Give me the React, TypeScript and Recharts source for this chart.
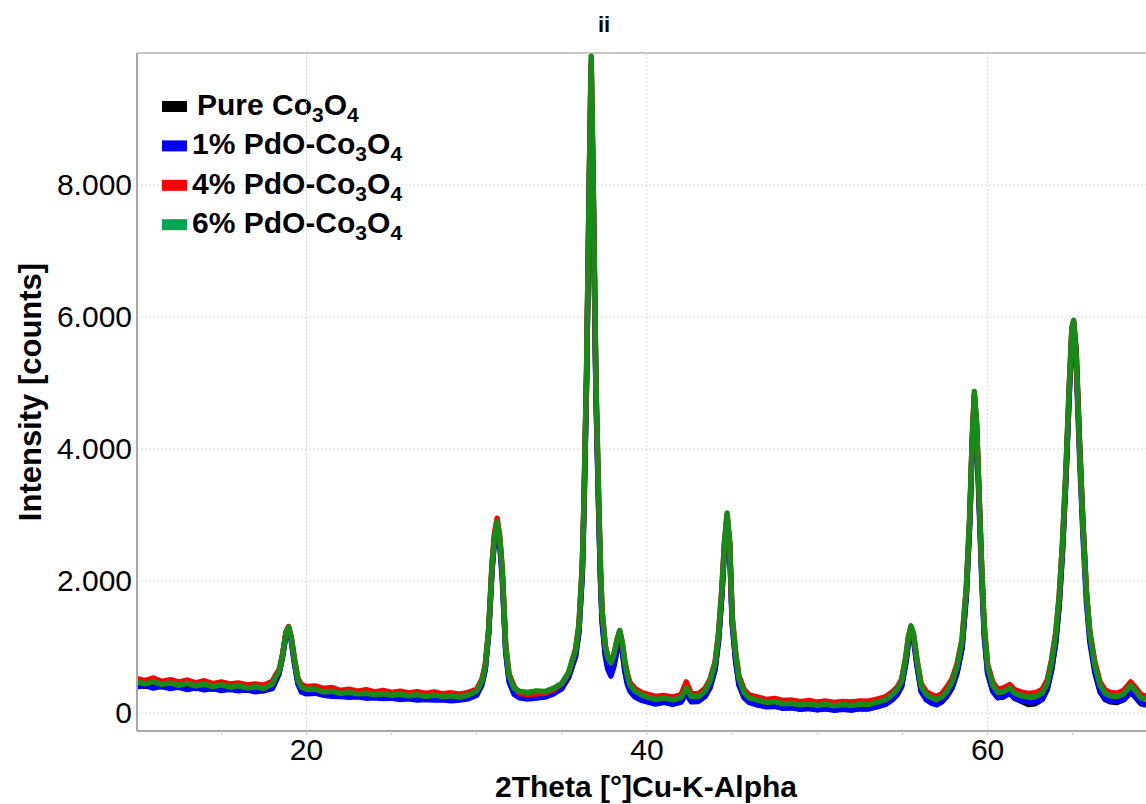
import React from "react";
import { LineChart, Line, XAxis, YAxis, CartesianGrid, ReferenceLine } from "recharts";

const twoTheta = [
  10.05, 10.5, 11, 11.5, 12, 12.5, 13, 13.5, 14, 14.5, 15, 15.5, 16, 16.5, 17, 17.5,
  18.0, 18.2, 18.4, 18.6, 18.8, 18.95, 19.1, 19.3, 19.5, 19.7, 20.0,
  20.5, 21, 21.5, 22, 22.5, 23, 23.5, 24, 24.5, 25, 25.5, 26, 26.5, 27, 27.5, 28, 28.5, 29, 29.5,
  30.0, 30.3, 30.5, 30.7, 30.9, 31.05, 31.2, 31.35, 31.5, 31.7, 31.9, 32.2,
  32.5, 33, 33.5, 34, 34.5, 35, 35.4,
  35.8, 36.0, 36.2, 36.3, 36.45, 36.6, 36.72, 36.84, 37.0, 37.16, 37.26, 37.36, 37.55, 37.7, 37.88, 38.05, 38.25, 38.4, 38.55, 38.7, 38.85, 39.0, 39.3, 39.7,
  40.0, 40.5, 41, 41.5, 42, 42.3, 42.6, 43, 43.4,
  43.7, 44.0, 44.2, 44.4, 44.55, 44.7, 44.85, 45.0, 45.2, 45.4, 45.7, 46.0,
  46.5, 47, 47.5, 48, 48.5, 49, 49.5, 50, 50.5, 51, 51.5, 52, 52.5, 53, 53.5, 54.0,
  54.4, 54.7, 54.95, 55.2, 55.35, 55.5, 55.65, 55.85, 56.1, 56.4, 56.7, 57.0, 57.3,
  57.6, 57.9, 58.2, 58.5, 58.75, 58.95, 59.1, 59.22, 59.35, 59.5, 59.65, 59.8, 60.0, 60.3, 60.6, 60.9, 61.3, 61.6,
  62.0, 62.4, 62.8, 63.2, 63.5, 63.75, 64.0, 64.2, 64.4, 64.6, 64.8, 64.95, 65.05, 65.2, 65.4, 65.6, 65.8, 66.0, 66.3, 66.6, 66.9, 67.2, 67.6, 68.0, 68.4, 68.7, 69.0, 69.3,
];

const pureCo3O4 = [
  430, 405, 425, 398, 410, 385, 402, 372, 392, 362, 380, 355, 368, 345, 356, 338,
  400, 510, 620, 870, 1210, 1290, 1140, 770, 470, 350, 320,
  330, 290, 298, 268, 280, 262, 270, 250, 262, 242, 255, 238, 248, 228, 242, 225, 235, 218, 245,
  300, 450, 680, 1220, 2200, 2680, 2870, 2620, 2100, 960, 510, 320,
  260, 240, 255, 265, 315, 400, 570,
  870, 1240, 2150, 3150, 5050, 7850, 9800, 7900, 4900, 3100, 2100, 1420, 890, 690, 600, 730, 990, 1160, 960, 650, 460, 360, 270, 210,
  180, 150, 170, 140, 175, 310, 185, 185, 260,
  400, 680, 1120, 1830, 2530, 2960, 2550, 1390, 810, 440, 245, 170,
  130, 100, 110, 80, 85, 62, 75, 52, 68, 48, 62, 50, 70, 68, 100, 140,
  210, 290, 410, 780, 1090, 1270, 1150, 740, 335, 210, 160, 130, 175,
  260, 380, 610, 1000, 1800, 2900, 4120, 4800, 4350, 3250, 2150, 1220, 620, 340, 235, 245, 305, 225,
  175, 130, 140, 205, 360, 650, 1080, 1640, 2480, 3580, 4900, 5780, 5920, 5500, 4100, 2880, 1830, 1180, 650, 330, 205, 170, 160, 200, 315, 235, 140, 120,
];

const pdo1 = [
  395, 420, 378, 405, 370, 392, 355, 380, 350, 372, 340, 360, 335, 350, 322, 340,
  370, 480, 600, 850, 1180, 1260, 1100, 740, 440, 320, 290,
  300, 270, 255, 250, 238, 245, 225, 232, 218, 225, 205, 215, 198, 205, 195, 200, 185, 195, 215,
  270, 420, 650, 1190, 2160, 2620, 2800, 2540, 2020, 920, 470, 280,
  230, 210, 225, 240, 290, 370, 540,
  850, 1220, 2100, 3100, 5000, 7700, 9500, 7800, 4800, 3050, 2050, 1380, 860, 660, 560, 700, 960, 1120, 920, 620, 430, 330, 240, 190,
  170, 135, 160, 130, 165, 300, 170, 175, 250,
  380, 660, 1090, 1790, 2490, 2890, 2490, 1340, 790, 420, 230, 160,
  120, 95, 100, 70, 78, 55, 68, 48, 62, 42, 58, 45, 65, 62, 95, 130,
  200, 280, 400, 760, 1060, 1230, 1110, 710, 320, 200, 150, 125, 165,
  250, 370, 600, 980, 1780, 2860, 4050, 4700, 4250, 3150, 2060, 1160, 600, 330, 230, 240, 300, 220,
  185, 165, 170, 210, 360, 640, 1070, 1620, 2460, 3560, 4860, 5700, 5800, 5280, 3880, 2680, 1680, 1080, 600, 320, 215, 185, 175, 205, 320, 240, 150, 130,
];

const pdo4 = [
  520, 490, 530, 478, 505, 470, 498, 455, 488, 445, 470, 440, 455, 425, 440, 420,
  480, 580, 660, 890, 1230, 1310, 1160, 820, 530, 430, 400,
  410, 372, 385, 340, 362, 330, 352, 318, 340, 310, 330, 305, 322, 295, 318, 290, 305, 285, 312,
  360, 510, 730, 1270, 2270, 2740, 2950, 2680, 2180, 1030, 590, 400,
  300, 275, 290, 300, 350, 440, 610,
  970, 1330, 2240, 3230, 5150, 7900, 9850, 7950, 4980, 3240, 2250, 1560, 1030, 850, 780, 890, 1120, 1240, 1060, 780, 590, 460, 370, 310,
  285, 250, 265, 240, 280, 470, 295, 290, 370,
  510, 780, 1210, 1900, 2580, 2990, 2580, 1460, 930, 560, 355, 275,
  240, 205, 220, 188, 195, 172, 188, 165, 180, 160, 175, 165, 182, 178, 210, 245,
  320, 395, 510, 860, 1150, 1310, 1190, 810, 440, 325, 280, 250, 290,
  390, 510, 740, 1120, 1900, 2980, 4160, 4820, 4380, 3300, 2220, 1330, 740, 470, 360, 375, 430, 350,
  315, 295, 305, 355, 500, 800, 1220, 1760, 2590, 3680, 4960, 5820, 5920, 5400, 4020, 2830, 1840, 1240, 770, 470, 350, 310, 300, 345, 470, 380, 280, 250,
];

const pdo6 = [
  470, 440, 475, 435, 455, 420, 450, 412, 436, 400, 428, 392, 412, 380, 398, 372,
  440, 550, 640, 880, 1220, 1300, 1150, 800, 500, 390, 360,
  362, 318, 330, 296, 312, 290, 300, 276, 292, 268, 284, 262, 276, 252, 270, 248, 262, 240, 272,
  330, 480, 700, 1250, 2250, 2700, 2900, 2650, 2150, 1000, 560, 370,
  330, 310, 335, 325, 372, 450, 620,
  950, 1320, 2250, 3250, 5200, 8000, 9950, 8000, 5000, 3250, 2250, 1550, 1010, 830, 760, 880, 1120, 1250, 1060, 760, 560, 420, 330, 270,
  240, 205, 228, 198, 235, 380, 250, 245, 330,
  480, 760, 1200, 1900, 2600, 3030, 2600, 1450, 900, 520, 310, 230,
  195, 160, 172, 140, 148, 125, 138, 115, 132, 110, 128, 112, 135, 128, 165, 200,
  280, 360, 480, 850, 1150, 1320, 1200, 800, 400, 280, 230, 200, 240,
  330, 460, 700, 1100, 1900, 3000, 4200, 4870, 4400, 3300, 2200, 1300, 700, 420, 310, 320, 380, 300,
  260, 240, 250, 300, 450, 760, 1200, 1750, 2600, 3700, 5000, 5850, 5950, 5400, 4000, 2800, 1800, 1200, 720, 420, 300, 260, 250, 290, 420, 330, 230, 200,
];

const xTicks = [15, 20, 25, 30, 35, 40, 45, 50, 55, 60, 65];
const xLabelTicks = [20, 40, 60];
const yTicks = [0, 2000, 4000, 6000, 8000];

const seriesNames = ["Pure ", "1% PdO-", "4% PdO-", "6% PdO-"];
const lineColors = ["#000000", "#0000ff", "#ff0000", "#178a17"];
const legendColors = ["#000000", "#0000ff", "#ff0000", "#00a651"];
const seriesKeys = ["pure", "pd1", "pd4", "pd6"];

const data = twoTheta.map((x, i) => ({
  x,
  pure: pureCo3O4[i],
  pd1: pdo1[i],
  pd4: pdo4[i],
  pd6: pdo6[i],
}));

const FONT = "'Liberation Sans', Arial, Helvetica, sans-serif";

const fmtY = (v: number) => {
  if (v === 0) return "0";
  const s = String(v);
  return s.slice(0, s.length - 3) + "." + s.slice(s.length - 3);
};

const XTick = (props: any) => {
  const { x, y, payload } = props;
  if (!xLabelTicks.includes(payload.value)) return <g />;
  return (
    <text x={x} y={y + 25} textAnchor="middle" fontSize={30} fontFamily={FONT} fill="#000">
      {payload.value}
    </text>
  );
};

const YTick = (props: any) => {
  const { x, y, payload } = props;
  return (
    <text x={x} y={y + 10} textAnchor="end" fontSize={30} fontFamily={FONT} fill="#000">
      {fmtY(payload.value)}
    </text>
  );
};

export default function App() {
  return (
    <div style={{ position: "absolute", left: 0, top: 0, width: 1146, height: 804, background: "#fff", overflow: "hidden" }}>
      <LineChart width={1146} height={804} data={data} margin={{ top: 53, right: 0, bottom: 0, left: 0 }}>
        <CartesianGrid vertical={false} stroke="#d8d8d8" strokeDasharray="2 2" />
        {xLabelTicks.map((v) => (
          <ReferenceLine key={v} x={v} stroke="#d8d8d8" strokeDasharray="2 2" />
        ))}
        <ReferenceLine y={10000} stroke="#c8c8c8" strokeWidth={2} />
        <XAxis
          type="number"
          dataKey="x"
          domain={[10.05, 69.3]}
          allowDataOverflow
          ticks={xTicks}
          height={73}
          tick={<XTick />}
          tickSize={4}
          tickMargin={0}
          tickLine={{ stroke: "#cccccc" }}
          axisLine={{ stroke: "#a8a8a8", strokeWidth: 2 }}
        />
        <YAxis
          type="number"
          domain={[-273, 10000]}
          allowDataOverflow
          ticks={yTicks}
          width={137}
          tick={<YTick />}
          tickSize={0}
          tickMargin={5}
          tickLine={false}
          axisLine={{ stroke: "#a8a8a8", strokeWidth: 2 }}
        />
        {seriesKeys.map((k, i) => (
          <Line
            key={k}
            type="linear"
            dataKey={k}
            stroke={lineColors[i]}
            strokeWidth={5.5}
            strokeLinejoin="round"
            dot={false}
            activeDot={false}
            isAnimationActive={false}
          />
        ))}
        <text x={604} y={32} textAnchor="middle" fontSize={22} fontWeight="bold" fontFamily={FONT} fill="#000">
          ii
        </text>
        <text
          x={30}
          y={392}
          transform="rotate(-90 30 392)"
          textAnchor="middle"
          dominantBaseline="central"
          fontSize={31}
          fontWeight="bold"
          fontFamily={FONT}
          fill="#000"
        >
          Intensity [counts]
        </text>
        <text x={646} y={797} textAnchor="middle" fontSize={30} fontWeight="bold" fontFamily={FONT} fill="#000">
          2Theta [°]Cu-K-Alpha
        </text>
        {seriesNames.map((name, i) => {
          const yb = 115 + i * 39.4;
          return (
            <g key={name}>
              <rect x={162} y={yb - 14} width={25} height={11} fill={legendColors[i]} />
              <text x={i === 0 ? 197 : 192} y={yb} fontSize={30} fontWeight="bold" fontFamily={FONT} fill="#000">
                {name + "Co"}
                <tspan fontSize={21} dy={7}>3</tspan>
                <tspan fontSize={30} dy={-7}>O</tspan>
                <tspan fontSize={21} dy={7}>4</tspan>
              </text>
            </g>
          );
        })}
      </LineChart>
    </div>
  );
}
